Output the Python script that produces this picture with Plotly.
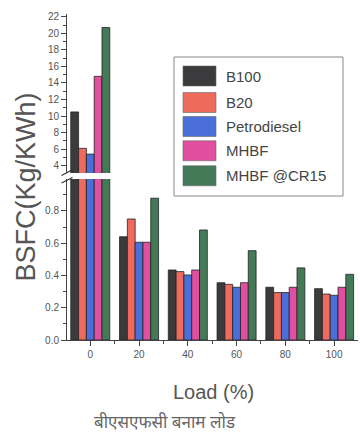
import plotly.graph_objects as go

loads = [0, 20, 40, 60, 80, 100]
series_names = ["B100", "B20", "Petrodiesel", "MHBF", "MHBF @CR15"]
b100 = [10.5, 0.64, 0.434, 0.355, 0.327, 0.318]
b20 = [6.1, 0.75, 0.424, 0.345, 0.294, 0.285]
petro = [5.4, 0.606, 0.403, 0.327, 0.294, 0.277]
mhbf = [14.8, 0.606, 0.434, 0.355, 0.327, 0.327]
cr15 = [20.7, 0.879, 0.682, 0.554, 0.447, 0.407]
colors = ["#3b3b3d", "#ee6a5c", "#4b6fd8", "#e0509e", "#457a58"]
all_series = [b100, b20, petro, mhbf, cr15]

W, H = 360, 438
L, R, T, B = 67, 2, 14, 98
PW, PH = W - L - R, H - T - B


def px(x):
    return (x - L) / PW


def py(y):
    return (H - B - y) / PH


fig = go.Figure()
for name, vals, col in zip(series_names, all_series, colors):
    for ax in ["y", "y2"]:
        fig.add_trace(go.Bar(
            x=loads, y=vals, name=name, marker_color=col,
            marker_line=dict(color="#222", width=0.8),
            xaxis="x", yaxis=ax, showlegend=False))

tickfont = dict(family="Liberation Sans, Arial, sans-serif", size=10, color="#555")
axcol = "#444"

fig.update_layout(
    width=W, height=H, margin=dict(l=L, r=R, t=T, b=B),
    paper_bgcolor="white", plot_bgcolor="white",
    barmode="group", bargap=0.2, bargroupgap=0,
    showlegend=False,
    xaxis=dict(range=[-9.55, 109.8], tickvals=loads, ticks="outside", ticklen=5,
               tickcolor=axcol, showline=True, linecolor=axcol, linewidth=1,
               showgrid=False, zeroline=False, tickfont=tickfont, anchor="y",
               minor=dict(tickvals=[10, 30, 50, 70, 90], ticks="outside", ticklen=3, tickcolor=axcol)),
    yaxis=dict(domain=[0, py(179)], range=[0, 0.998], tickvals=[0, 0.2, 0.4, 0.6, 0.8],
               tickformat=".1f", ticks="outside", ticklen=5, tickcolor=axcol,
               showline=True, linecolor=axcol, linewidth=1, showgrid=False, zeroline=False,
               tickfont=tickfont, anchor="x",
               minor=dict(dtick=0.1, ticks="outside", ticklen=3, tickcolor=axcol)),
    yaxis2=dict(domain=[py(173), 1], range=[3.12, 22.33], tickvals=list(range(4, 23, 2)),
                ticks="outside", ticklen=5, tickcolor=axcol,
                showline=True, linecolor=axcol, linewidth=1, showgrid=False, zeroline=False,
                tickfont=tickfont, anchor="x",
                minor=dict(dtick=1, ticks="outside", ticklen=3, tickcolor=axcol)),
)

shapes = []
annotations = []
# axis break marks
for (x0, y0, x1, y1) in [(61.5, 175.5, 73, 169.5), (61.5, 183, 72.5, 177.5)]:
    shapes.append(dict(type="line", xref="paper", yref="paper",
                       x0=px(x0), y0=py(y0), x1=px(x1), y1=py(y1),
                       line=dict(color="#333", width=1.2)))

# legend box
shapes.append(dict(type="rect", xref="paper", yref="paper",
                   x0=px(174), x1=px(343), y0=py(196), y1=py(57),
                   line=dict(color="#888", width=1), fillcolor="white", layer="above"))
row_centers = [76, 102.5, 126.5, 150.8, 175.8]
for name, col, cy in zip(series_names, colors, row_centers):
    shapes.append(dict(type="rect", xref="paper", yref="paper",
                       x0=px(183), x1=px(216), y0=py(cy + 10), y1=py(cy - 10),
                       line=dict(color="#666", width=0.6), fillcolor=col, layer="above"))
    annotations.append(dict(text=name, xref="paper", yref="paper", x=px(224), y=py(cy),
                            xanchor="left", yanchor="middle", showarrow=False,
                            font=dict(family="Liberation Sans, Arial, sans-serif", size=15, color="#444")))

annotations.append(dict(text="BSFC(Kg/KWh)", xref="paper", yref="paper", x=px(26), y=py(187.5),
                        xanchor="center", yanchor="middle", textangle=-90, showarrow=False,
                        font=dict(family="Liberation Sans, Arial, sans-serif", size=27, color="#555")))
annotations.append(dict(text="Load (%)", xref="paper", yref="paper", x=px(213), y=py(392),
                        xanchor="center", yanchor="middle", showarrow=False,
                        font=dict(family="Liberation Sans, Arial, sans-serif", size=20, color="#555")))
annotations.append(dict(text="बीएसएफसी बनाम लोड", xref="paper", yref="paper", x=px(165), y=py(421),
                        xanchor="center", yanchor="middle", showarrow=False,
                        font=dict(family="Noto Sans, Noto Serif, sans-serif", size=17, color="#666")))

fig.update_layout(shapes=shapes, annotations=annotations)
fig.write_html("out.html")
